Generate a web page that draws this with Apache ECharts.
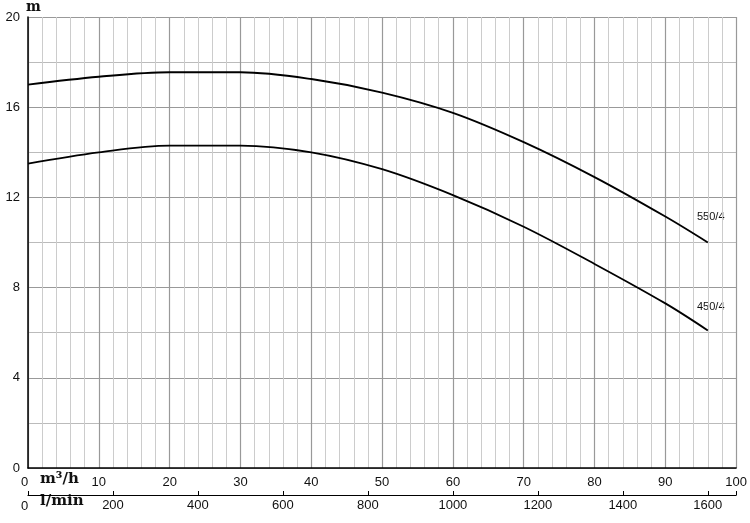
<!DOCTYPE html>
<html>
<head>
<meta charset="utf-8">
<script src="https://cdn.jsdelivr.net/npm/echarts@6/dist/echarts.min.js"></script>
</head>
<body style="margin:0">
<div id="main" style="width:750px;height:523px;"></div>
<script>
// flow in m3/h, head in m
var flow = [0, 10, 20, 30, 40, 50, 60, 70, 80, 90, 96];
var head550 = [17.0, 17.35, 17.55, 17.55, 17.25, 16.65, 15.75, 14.45, 12.9, 11.15, 10.0];
var head450 = [13.5, 14.0, 14.3, 14.3, 14.0, 13.25, 12.1, 10.7, 9.05, 7.3, 6.1];
var lminTicks = [0, 200, 400, 600, 800, 1000, 1200, 1400, 1600];

function pairs(xs, ys) { return xs.map(function (x, i) { return [x, ys[i]]; }); }

var chart = echarts.init(document.getElementById('main'));
var font = 'Liberation Sans';
chart.setOption({
    animation: false,
    grid: { left: 28, right: 12, top: 17, bottom: 55 },
    xAxis: [{
        type: 'value', min: 0, max: 100, interval: 10,
        axisLine: { lineStyle: { color: '#000', width: 1.5 } },
        axisTick: { show: false },
        axisLabel: { color: '#111', fontSize: 13, fontFamily: font, margin: 8,
            formatter: function (v) { return v === 0 ? '' : v; } },
        splitLine: { lineStyle: { color: '#999', width: 1.2 } },
        minorTick: { show: false, splitNumber: 5 },
        minorSplitLine: { show: true, lineStyle: { color: '#ccc', width: 1 } }
    }, {
        type: 'value', position: 'bottom', offset: 27, min: 0, max: 1666.67, interval: 200,
        axisLine: { lineStyle: { color: '#000', width: 1.2 } },
        axisTick: { show: true, inside: true, length: 4, lineStyle: { color: '#000' } },
        axisLabel: { color: '#111', fontSize: 13, fontFamily: font, margin: 4,
            formatter: function (v) { return lminTicks.indexOf(v) > 0 ? v : ''; } },
        splitLine: { show: false }
    }],
    yAxis: {
        type: 'value', min: 0, max: 20, interval: 4,
        axisLine: { show: true, lineStyle: { color: '#000', width: 1.5 } },
        axisTick: { show: false },
        axisLabel: { color: '#111', fontSize: 13, fontFamily: font, margin: 8 },
        splitLine: { lineStyle: { color: '#999', width: 1 } },
        minorTick: { show: false, splitNumber: 2 },
        minorSplitLine: { show: true, lineStyle: { color: '#bbb', width: 1 } }
    },
    series: [{
        type: 'line', smooth: 0.35, showSymbol: false, data: pairs(flow, head550),
        lineStyle: { color: '#000', width: 1.8 }
    }, {
        type: 'line', smooth: 0.35, showSymbol: false, data: pairs(flow, head450),
        lineStyle: { color: '#000', width: 1.8 }
    }],
    graphic: [
        { type: 'text', left: 26, top: 0, style: { text: 'm', fontSize: 14, fontFamily: 'DejaVu Serif', fontWeight: 'bold', fill: '#111' } },
        { type: 'text', left: 21, top: 476, style: { text: '0', fontSize: 13, fontFamily: font, fill: '#111' } },
        { type: 'text', left: 40, top: 472, style: { text: 'm³/h', fontSize: 15, fontFamily: 'DejaVu Serif', fontWeight: 'bold', fill: '#111' } },
        { type: 'text', left: 21, top: 500, style: { text: '0', fontSize: 13, fontFamily: font, fill: '#111' } },
        { type: 'text', left: 40, top: 494, style: { text: 'l/min', fontSize: 15, fontFamily: 'DejaVu Serif', fontWeight: 'bold', fill: '#111' } },
        { type: 'text', left: 697, top: 211, style: { text: '550/4', fontSize: 11, fontFamily: font, fill: '#111' } },
        { type: 'text', left: 697, top: 301, style: { text: '450/4', fontSize: 11, fontFamily: font, fill: '#111' } }
    ]
});
</script>
</body>
</html>
